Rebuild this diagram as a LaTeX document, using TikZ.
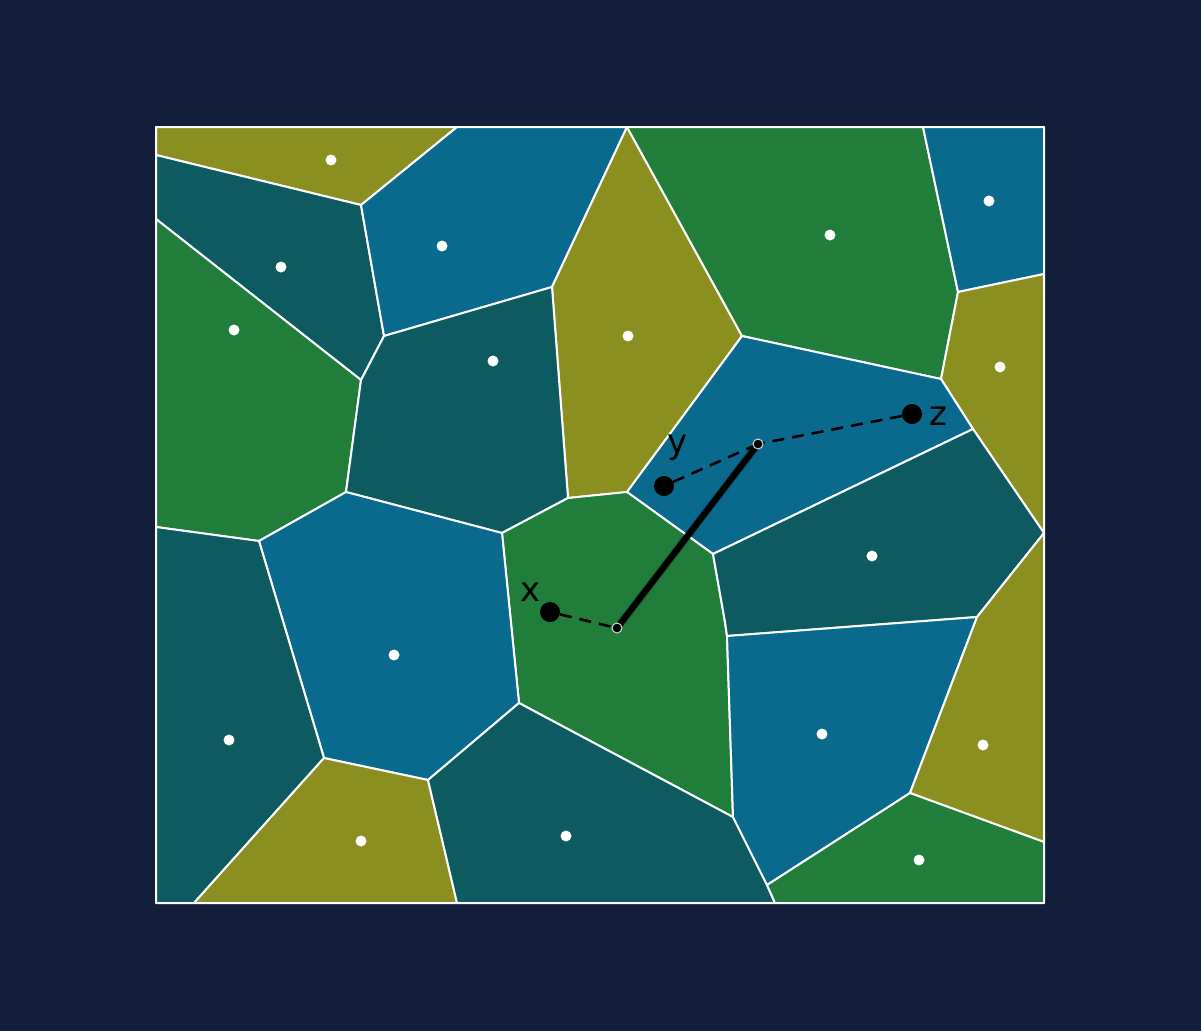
\documentclass[tikz,border=0pt]{standalone}
\usepackage{fontspec}
\setsansfont{DejaVu Sans}
\definecolor{bgc}{HTML}{131F3A}
\definecolor{olv}{HTML}{8A8F1F}
\definecolor{tea}{HTML}{0D5B61}
\definecolor{blu}{HTML}{0A6A8E}
\definecolor{grn}{HTML}{207D3A}
\begin{document}
\begin{tikzpicture}[x=1pt,y=-1pt,
  cell/.style={draw=white,line width=2pt,line join=round},
  seed/.style={circle,fill=white,inner sep=0pt,minimum size=11pt},
  pt/.style={circle,fill=black,inner sep=0pt,minimum size=20pt},
  endpt/.style={circle,fill=black,draw=white!85!black,line width=1pt,inner sep=0pt,minimum size=10pt},
  lbl/.style={font=\sffamily\fontsize{34}{38}\selectfont,text=black,inner sep=0pt},
  dsh/.style={black,line width=2.6pt,dash pattern=on 12pt off 8pt},
  seg/.style={black,line width=6pt,line cap=round}]
\fill[bgc] (0,0) rectangle (1201,1031);
\useasboundingbox (0,0) rectangle (1201,1031);
% cells
\fill[olv,cell] (156,127)--(457,127)--(361,205)--(156,155)--cycle;
\fill[tea,cell] (156,155)--(361,205)--(384,336)--(361,380)--(156,219)--cycle;
\fill[blu,cell] (457,127)--(627,127)--(552,287)--(384,336)--(361,205)--cycle;
\fill[olv,cell] (627,127)--(742,336)--(627,492)--(568,498)--(552,287)--cycle;
\fill[grn,cell] (627,127)--(923,127)--(958,292)--(941,379)--(742,336)--cycle;
\fill[blu,cell] (923,127)--(1044,127)--(1044,274)--(958,292)--cycle;
\fill[olv,cell] (958,292)--(1044,274)--(1044,533)--(973,429)--(941,379)--cycle;
\fill[blu,cell] (742,336)--(941,379)--(973,429)--(713,554)--(627,492)--cycle;
\fill[grn,cell] (156,219)--(361,380)--(346,492)--(259,541)--(156,527)--cycle;
\fill[tea,cell] (384,336)--(552,287)--(568,498)--(502,533)--(346,492)--(361,380)--cycle;
\fill[grn,cell] (502,533)--(568,498)--(627,492)--(713,554)--(725,622)--(727,636)--(733,817)--(519,703)--cycle;
\fill[tea,cell] (713,554)--(973,429)--(1044,533)--(977,617)--(727,636)--(725,622)--cycle;
\fill[blu,cell] (259,541)--(346,492)--(502,533)--(519,703)--(428,780)--(324,758)--cycle;
\fill[tea,cell] (156,527)--(259,541)--(324,758)--(194,903)--(156,903)--cycle;
\fill[olv,cell] (324,758)--(428,780)--(457,903)--(194,903)--cycle;
\fill[tea,cell] (428,780)--(519,703)--(733,817)--(767,885)--(775,903)--(457,903)--cycle;
\fill[blu,cell] (727,636)--(977,617)--(910,793)--(767,885)--(733,817)--cycle;
\fill[olv,cell] (977,617)--(1044,533)--(1044,842)--(910,793)--cycle;
\fill[grn,cell] (767,885)--(910,793)--(1044,842)--(1044,903)--(775,903)--cycle;
\draw[cell] (156,127) rectangle (1044,903);
% seeds
\foreach \p [count=\i] in {(331,160),(281,267),(442,246),(628,336),(830,235),(989,201),(1000,367),(234,330),(493,361),(872,556),(394,655),(229,740),(361,841),(566,836),(822,734),(983,745),(919,860)}
  \node[seed] (s\i) at \p {};
% points
\node[pt] (x) at (550,612) {};
\node[pt] (y) at (664,486) {};
\node[pt] (z) at (912,414) {};
\coordinate (a) at (617,628);
\coordinate (b) at (758,444);
\node[lbl] (lx) at (531,592) {x};
\node[lbl] (ly) at (678,448) {y};
\node[lbl] (lz) at (938,416) {z};
\draw[dsh] (x) -- (a);
\draw[dsh] (y) -- (b);
\draw[dsh] (z) -- (b);
\draw[line width=8pt,black,opacity=0.25,line cap=round,shift={(2pt,-2pt)}] (a) -- (b);
\draw[seg] (a) -- (b);
\node[endpt] (ea) at (a) {};
\node[endpt] (eb) at (b) {};
\end{tikzpicture}
\end{document}
